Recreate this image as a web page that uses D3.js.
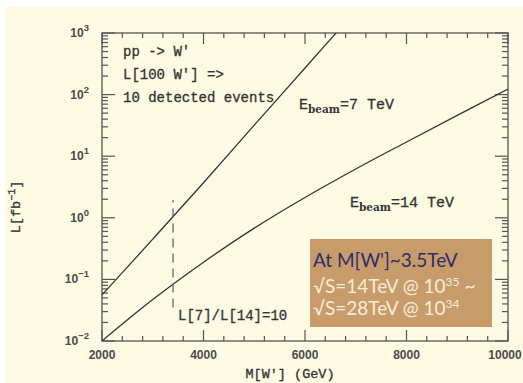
<!DOCTYPE html>
<html>
<head>
<meta charset="utf-8">
<script src="https://cdn.jsdelivr.net/npm/d3@7"></script>
<style>
  body { margin: 0; background: #fff; }
  text { white-space: pre; }
</style>
</head>
<body>
<div id="chart"></div>
<script>
// W' mass (GeV) and luminosity (fb^-1) needed for 100 W' produced
var mass7 = [2000, 3000, 4000, 5000, 6000, 7000];
var lumi7 = [0.056, 0.45, 3.7, 32, 270, 2300];
var mass14 = [2000, 3000, 4000, 5000, 6000, 7000, 8000, 9000, 10000];
var lumi14 = [0.01, 0.047, 0.19, 0.68, 2.14, 6.2, 17, 46, 123];
// dashed marker where L[7]/L[14] = 10
var ratioMass = 3400;
var ratioLumi = [0.035, 1.95];
var xTicks = [2000, 4000, 6000, 8000, 10000];
var yExponents = [-2, -1, 0, 1, 2, 3];
var infoLines = ["pp -> W'", "L[100 W'] =>", "10 detected events"];

var W = 523, H = 383;
var ink = '#333', axisInk = '#555';
var mono = '"Liberation Mono", monospace';

var svg = d3.select('#chart').append('svg')
    .attr('width', W).attr('height', H);

svg.append('rect')
    .attr('x', 5).attr('y', 7).attr('width', W - 5).attr('height', H - 7)
    .attr('fill', '#fcfae2');

var x = d3.scaleLinear().domain([2000, 10000]).range([102, 508]);
var y = d3.scaleLog().domain([0.01, 1000]).range([341, 33]);

svg.append('clipPath').attr('id', 'plot')
  .append('rect')
    .attr('x', x(2000)).attr('y', y(1000))
    .attr('width', x(10000) - x(2000)).attr('height', y(0.01) - y(1000));

// frame
svg.append('rect')
    .attr('x', x(2000)).attr('y', y(1000))
    .attr('width', x(10000) - x(2000)).attr('height', y(0.01) - y(1000))
    .attr('fill', 'none').attr('stroke', axisInk).attr('stroke-width', 1.3);

// ticks on all four sides, pointing inwards
var xMinor = d3.range(2000, 10001, 400).filter(function(d) { return xTicks.indexOf(d) < 0; });
var yMinor = [];
yExponents.slice(0, -1).forEach(function(e) {
  d3.range(2, 10).forEach(function(m) { yMinor.push(m * Math.pow(10, e)); });
});

var ticks = svg.append('g').attr('stroke', axisInk).attr('stroke-width', 1.2);
function xTick(v, len) {
  ticks.append('line').attr('x1', x(v)).attr('x2', x(v)).attr('y1', y(0.01)).attr('y2', y(0.01) - len);
  ticks.append('line').attr('x1', x(v)).attr('x2', x(v)).attr('y1', y(1000)).attr('y2', y(1000) + len);
}
function yTick(v, len) {
  ticks.append('line').attr('y1', y(v)).attr('y2', y(v)).attr('x1', x(2000)).attr('x2', x(2000) + len);
  ticks.append('line').attr('y1', y(v)).attr('y2', y(v)).attr('x1', x(10000)).attr('x2', x(10000) - len);
}
xTicks.forEach(function(v) { xTick(v, 11); });
xMinor.forEach(function(v) { xTick(v, 5); });
yExponents.forEach(function(e) { yTick(Math.pow(10, e), 13); });
yMinor.forEach(function(v) { yTick(v, 6); });

// tick labels
var xl = svg.append('g').selectAll('text').data(xTicks).enter().append('text')
    .attr('x', function(d) { return x(d); }).attr('y', 359)
    .attr('text-anchor', 'middle')
    .attr('font-family', 'Arial, "Liberation Sans", sans-serif')
    .attr('font-weight', 'bold').attr('font-size', 12).attr('fill', '#4a4a4a')
    .text(function(d) { return d; });
// keep the last label inside the window
xl.each(function() {
  var b = this.getBBox();
  if (b.x + b.width > W - 1) {
    d3.select(this).attr('x', +d3.select(this).attr('x') - (b.x + b.width - (W - 1)));
  }
});

var yl = svg.append('g').selectAll('text').data(yExponents).enter().append('text')
    .attr('x', 89).attr('y', function(d) { return y(Math.pow(10, d)) + 4; })
    .attr('text-anchor', 'end')
    .attr('font-family', 'Arial, "Liberation Sans", sans-serif')
    .attr('font-weight', 'bold').attr('font-size', 12).attr('fill', '#4a4a4a');
yl.append('tspan').text('10');
yl.append('tspan').attr('dy', -6).attr('font-size', 9.5)
    .text(function(d) { return d < 0 ? '\u2212' + (-d) : d; });

// curves
var line = d3.line()
    .x(function(d) { return x(d[0]); })
    .y(function(d) { return y(d[1]); })
    .curve(d3.curveCatmullRom);

var curves = svg.append('g').attr('clip-path', 'url(#plot)');
curves.append('path')
    .attr('d', line(d3.zip(mass7, lumi7)))
    .attr('fill', 'none').attr('stroke', ink).attr('stroke-width', 1.3);
curves.append('path')
    .attr('d', line(d3.zip(mass14, lumi14)))
    .attr('fill', 'none').attr('stroke', ink).attr('stroke-width', 1.3);

svg.append('line')
    .attr('x1', x(ratioMass)).attr('x2', x(ratioMass))
    .attr('y1', y(ratioLumi[0])).attr('y2', y(ratioLumi[1]))
    .attr('stroke', '#666').attr('stroke-width', 1.3).attr('stroke-dasharray', '9,6');

// annotations (slight stroke to thicken the thin mono face)
function monoText(sel, size) {
  return sel.attr('font-family', mono).attr('font-size', size)
      .attr('fill', ink).attr('stroke', ink).attr('stroke-width', 0.3);
}

monoText(svg.append('g'), 14).selectAll('text').data(infoLines).enter().append('text')
    .attr('x', 123).attr('y', function(d, i) { return 56 + i * 23; })
    .text(function(d) { return d; });

function beamLabel(px, py, rest) {
  var t = monoText(svg.append('text').attr('x', px).attr('y', py), 15);
  t.append('tspan').text('E');
  t.append('tspan').attr('dy', 4).attr('font-size', 10.5).attr('font-weight', 'bold')
      .attr('stroke-width', 0).attr('font-family', '"DejaVu Serif", serif').text('beam');
  t.append('tspan').attr('dy', -4).text(rest);
}
beamLabel(299, 109, '=7 TeV');
beamLabel(350, 207, '=14 TeV');

monoText(svg.append('text'), 14)
    .attr('x', 178).attr('y', 320)
    .text('L[7]/L[14]=10');

monoText(svg.append('text'), 13.5)
    .attr('x', 290).attr('y', 378).attr('text-anchor', 'middle')
    .text("M[W'] (GeV)");

var ylab = monoText(svg.append('text'), 13.5)
    .attr('transform', 'translate(20,207) rotate(-90)')
    .attr('text-anchor', 'middle');
ylab.append('tspan').text('L[fb');
ylab.append('tspan').attr('dy', -5).attr('font-size', 10).text('\u22121');
ylab.append('tspan').attr('dy', 5).text(']');

// highlighted note box
svg.append('rect')
    .attr('x', 310).attr('y', 239).attr('width', 182).attr('height', 88)
    .attr('fill', '#c89b6b');

var note = svg.append('g')
    .attr('font-family', 'Lato, "Noto Sans", sans-serif').attr('font-size', 19);
note.append('text').attr('x', 313).attr('y', 267).attr('fill', '#2b2d6b')
    .text("At M[W']~3.5TeV");
var n2 = note.append('text').attr('x', 313).attr('y', 293).attr('fill', '#f6eed6');
n2.append('tspan').text('\u221AS=14TeV @ 10');
n2.append('tspan').attr('dy', -7).attr('font-size', 12).text('35');
n2.append('tspan').attr('dy', 7).text(' ~');
var n3 = note.append('text').attr('x', 313).attr('y', 315).attr('fill', '#f6eed6');
n3.append('tspan').text('\u221AS=28TeV @ 10');
n3.append('tspan').attr('dy', -7).attr('font-size', 12).text('34');
</script>
</body>
</html>
